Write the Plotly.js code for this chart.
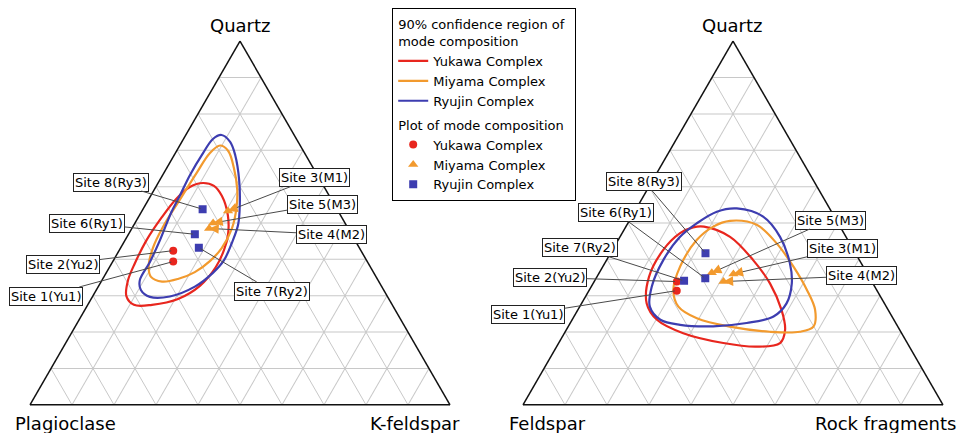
<!DOCTYPE html>
<html><head><meta charset="utf-8">
<script src="https://cdn.plot.ly/plotly-3.0.1.min.js"></script>
<style>html,body{margin:0;padding:0;background:#fff}#chart{width:968px;height:433px}</style>
</head><body><div id="chart"></div>
<script>
// ---------- data ----------
const sites = ['Site 1(Yu1)','Site 2(Yu2)','Site 3(M1)','Site 4(M2)','Site 5(M3)','Site 6(Ry1)','Site 7(Ry2)','Site 8(Ry3)'];
const complexes = ['Yukawa Complex','Miyama Complex','Ryujin Complex'];
const siteComplex = [0,0,1,1,1,2,2,2];

// Quartz - Plagioclase - K-feldspar mode composition (%)
const qpkQuartz = [39.4, 42.4, 53.3, 48.5, 50.0, 46.9, 43.2, 53.8];
const qpkPlag   = [46.2, 44.7, 26.2, 33.1, 31.4, 37.3, 38.2, 32.0];
const qpkKfs    = [14.4, 12.9, 20.5, 18.4, 18.6, 15.8, 18.6, 14.2];

// Quartz - Feldspar - Rock fragments mode composition (%)
const qfrQuartz = [31.4, 33.9, 36.0, 33.9, 36.3, 34.8, 34.1, 41.7];
const qfrFeld   = [47.7, 46.4, 31.9, 35.3, 36.9, 39.2, 44.6, 35.7];
const qfrRock   = [20.9, 19.7, 32.1, 30.8, 26.8, 26.0, 21.3, 22.6];

// 90% confidence regions, QPK diagram
const yuQpkQ = [61.0,60.2,57.4,52.2,46.7,42.6,37.9,32.7,29.1,27.5,27.5,29.9,34.3,39.0,45.1,51.6,56.6,59.9];
const yuQpkP = [28.3,26.1,25.6,26.8,29.5,32.5,36.8,43.2,50.2,57.2,61.5,62.1,59.5,55.5,49.8,42.8,36.9,32.0];
const yuQpkK = [10.7,13.7,17.0,21.0,23.8,24.9,25.3,24.1,20.7,15.3,11.0,8.0,6.2,5.5,5.1,5.6,6.5,8.1];
const miQpkQ = [71.3,69.8,65.1,59.1,54.1,48.6,43.1,39.6,36.5,34.6,33.9,35.2,37.9,43.1,48.9,56.9,64.0,69.2];
const miQpkP = [19.1,17.9,18.9,21.1,23.8,27.6,32.8,37.3,42.5,47.5,51.6,53.6,52.8,49.2,43.9,35.6,28.2,22.6];
const miQpkK = [9.6,12.3,16.0,19.8,22.1,23.8,24.1,23.1,21.0,17.9,14.5,11.2,9.3,7.7,7.2,7.5,7.8,8.2];
const ryQpkQ = [74.2,72.3,68.7,61.8,54.9,49.5,44.5,39.8,36.3,32.5,29.8,29.7,31.6,34.3,39.3,45.3,52.7,57.7,63.2,69.2,73.1];
const ryQpkP = [17.3,16.2,16.8,19.3,22.6,25.7,29.7,33.9,38.3,44.5,51.8,56.6,57.8,56.7,51.8,46.4,40.1,35.4,30.3,24.2,19.9];
const ryQpkK = [8.5,11.5,14.5,18.9,22.5,24.8,25.8,26.3,25.4,23.0,18.4,13.7,10.6,9.0,8.9,8.3,7.2,6.9,6.5,6.6,7.0];

// 90% confidence regions, QFR diagram
const yuQfrQ = [49.0,46.2,39.8,33.4,26.1,20.6,17.0,16.0,17.0,19.7,23.4,27.9,35.2,42.6,47.2,48.8];
const yuQfrF = [32.4,27.6,25.3,24.5,25.4,27.3,30.3,36.4,43.8,52.0,56.4,56.6,52.4,45.3,39.0,35.1];
const yuQfrR = [18.6,26.2,34.9,42.1,48.5,52.1,52.7,47.6,39.2,28.3,20.2,15.5,12.4,12.1,13.8,16.1];
const miQfrQ = [50.6,49.5,44.4,38.0,31.6,26.1,21.5,20.1,20.1,21.5,23.8,27.0,31.6,38.0,45.3,49.0];
const miQfrF = [25.4,19.6,17.4,16.6,16.6,17.4,20.1,24.0,31.2,40.0,46.7,49.5,48.4,43.6,36.0,30.2];
const miQfrR = [24.0,30.9,38.2,45.4,51.8,56.5,58.4,55.9,48.7,38.5,29.5,23.5,20.0,18.4,18.7,20.8];
const ryQfrQ = [54.0,51.7,46.2,38.9,33.4,27.9,24.3,22.5,21.6,22.0,23.4,27.0,32.5,39.8,46.2,49.9,53.1];
const ryQfrF = [22.1,16.9,15.7,17.0,19.3,23.3,28.2,35.5,43.9,51.6,55.6,56.3,53.1,46.7,39.5,33.7,27.3];
const ryQfrR = [23.9,31.4,38.1,44.1,47.3,48.8,47.5,42.0,34.5,26.4,21.0,16.7,14.4,13.5,14.3,16.4,19.6];

// ---------- styles ----------
const FONT = 'DejaVu Sans, Arial, sans-serif';
const COLORS = ['#e8261e', '#f29a2e', '#3d3db0'];
const SYMBOLS = ['circle', 'triangle-up', 'square'];
const SIZES = [8, 9, 8];
const W = 968, H = 433;

// label box centres in pixels (layout, not data)
const labelPosLeft  = [[46,296],[63,264],[314,177.5],[331,234.5],[322.5,204],[87,223],[272,291],[111,182]];
const labelPosRight = [[528,314],[550,277.5],[842,248.7],[861,275.8],[830,220],[616,212.5],[580,247.5],[644,181.3]];

function closeLoop(arr){ return arr.concat([arr[0]]); }

const regionsQpk = [[yuQpkQ,yuQpkP,yuQpkK],[miQpkQ,miQpkP,miQpkK],[ryQpkQ,ryQpkP,ryQpkK]];
const regionsQfr = [[yuQfrQ,yuQfrF,yuQfrR],[miQfrQ,miQfrF,miQfrR],[ryQfrQ,ryQfrF,ryQfrR]];

const traces = [];
function addRegions(regs, subplot, showLegend){
  regs.forEach((r, k) => {
    const t = {
      type:'scatterternary', subplot: subplot, mode:'lines',
      a: closeLoop(r[0]), b: closeLoop(r[1]), c: closeLoop(r[2]),
      line:{color:COLORS[k], width:2.2, shape:'spline', smoothing:1},
      name: complexes[k], legendgroup:'region', showlegend: showLegend, hoverinfo:'skip'
    };
    if (k === 0) t.legendgrouptitle = {text:'90% confidence region of<br>mode composition', font:{size:13, family:FONT}};
    traces.push(t);
  });
}
function addPoints(A, B, C, subplot, showLegend){
  complexes.forEach((name, k) => {
    const idx = siteComplex.map((v,i)=> v===k ? i : -1).filter(i => i>=0);
    const t = {
      type:'scatterternary', subplot: subplot, mode:'markers',
      a: idx.map(i=>A[i]), b: idx.map(i=>B[i]), c: idx.map(i=>C[i]),
      text: idx.map(i=>sites[i]),
      marker:{color:COLORS[k], symbol:SYMBOLS[k], size:SIZES[k], line:{width:0}},
      name: name, legendgroup:'plot', showlegend: showLegend
    };
    if (k === 0) t.legendgrouptitle = {text:'Plot of mode composition', font:{size:13, family:FONT}};
    traces.push(t);
  });
}
addRegions(regionsQpk, 'ternary', true);
addPoints(qpkQuartz, qpkPlag, qpkKfs, 'ternary', true);
addRegions(regionsQfr, 'ternary2', false);
addPoints(qfrQuartz, qfrFeld, qfrRock, 'ternary2', false);

function tAxis(){
  return {min:0, tick0:0, dtick:10, showgrid:true, gridcolor:'#c8c8c8', gridwidth:1,
          showticklabels:false, ticks:'', showline:true, linecolor:'#111', linewidth:1.5, title:{text:''}};
}
const yDom = [1 - 405/H, 1 - 41/H];
const cornerFont = {family:FONT, size:18, color:'#000'};
function corner(text, x, y, xanchor){
  return {text:text, xref:'paper', yref:'paper', x:x/W, y:1-y/H, xanchor:xanchor, yanchor:'middle', showarrow:false, font:cornerFont};
}
const cornerAnns = [
  corner('Quartz', 240, 25.5, 'center'),
  corner('Plagioclase', 13, 423, 'left'),
  corner('K-feldspar', 368, 423, 'left'),
  corner('Quartz', 732.5, 25.5, 'center'),
  corner('Feldspar', 507, 423, 'left'),
  corner('Rock fragments', 958, 423, 'right')
];

const layout = {
  width:W, height:H, margin:{l:0,r:0,t:0,b:0}, paper_bgcolor:'#fff',
  font:{family:FONT, size:13, color:'#000'},
  ternary:{sum:100, domain:{x:[30/W, 450/W], y:yDom}, bgcolor:'#fff', aaxis:tAxis(), baxis:tAxis(), caxis:tAxis()},
  ternary2:{sum:100, domain:{x:[523/W, 943/W], y:yDom}, bgcolor:'#fff', aaxis:tAxis(), baxis:tAxis(), caxis:tAxis()},
  showlegend:true,
  legend:{x:392/W, y:1-8/H, xanchor:'left', yanchor:'top', bgcolor:'#fff', bordercolor:'#000', borderwidth:1.2,
          font:{family:FONT, size:13}, tracegroupgap:4, itemwidth:30, traceorder:'grouped'},
  annotations: cornerAnns.slice()
};

const gd = document.getElementById('chart');

function toPaper(subId, a, b, c){
  const fl = gd._fullLayout[subId];
  const sub = fl && fl._subplot;
  const s = a + b + c;
  if (sub && sub.xaxis && sub.yaxis && sub.xaxis.domain) {
    const sum = sub.sum || 100;
    const an = a*sum/s, bn = b*sum/s, cn = c*sum/s;
    const xv = cn - bn, yv = an;
    const xa = sub.xaxis, ya = sub.yaxis;
    return [xa.domain[0] + (xv - xa.range[0])/(xa.range[1]-xa.range[0])*(xa.domain[1]-xa.domain[0]),
            ya.domain[0] + (yv - ya.range[0])/(ya.range[1]-ya.range[0])*(ya.domain[1]-ya.domain[0])];
  }
  const d = layout[subId].domain;
  const an = a/s, cn = c/s;
  return [d.x[0] + (d.x[1]-d.x[0])*(cn + an/2), d.y[0] + (d.y[1]-d.y[0])*an];
}

function siteAnns(subId, A, B, C, pos){
  const out = [];
  sites.forEach((name, i) => {
    const p = toPaper(subId, A[i], B[i], C[i]);
    const px = p[0]*W, py = (1-p[1])*H;
    const ax = pos[i][0]-px, ay = pos[i][1]-py;
    const isArrow = siteComplex[i] === 1;
    out.push({
      xref:'paper', yref:'paper', x:p[0], y:p[1], text:name,
      showarrow:true, arrowhead:0, arrowwidth:1, arrowcolor:'#4a4a4a',
      ax: ax, ay: ay, standoff: isArrow ? 4 : 2,
      bgcolor:'#fff', bordercolor:'#222', borderwidth:1, borderpad:1,
      font:{family:FONT, size:13, color:'#000'}
    });
    if (isArrow) {
      const len = Math.hypot(ax, ay);
      out.push({
        xref:'paper', yref:'paper', x:p[0], y:p[1], text:' ',
        showarrow:true, arrowhead:2, arrowsize:1.6, arrowwidth:1.2, arrowcolor:COLORS[1],
        ax: ax/len*9, ay: ay/len*9, standoff:0, bgcolor:'rgba(0,0,0,0)', borderwidth:0,
        font:{size:1}
      });
    }
  });
  return out;
}

Plotly.newPlot(gd, traces, layout, {staticPlot:true, displayModeBar:false}).then(() => {
  const anns = cornerAnns
    .concat(siteAnns('ternary', qpkQuartz, qpkPlag, qpkKfs, labelPosLeft))
    .concat(siteAnns('ternary2', qfrQuartz, qfrFeld, qfrRock, labelPosRight));
  return Plotly.relayout(gd, {annotations: anns});
});
</script></body></html>
